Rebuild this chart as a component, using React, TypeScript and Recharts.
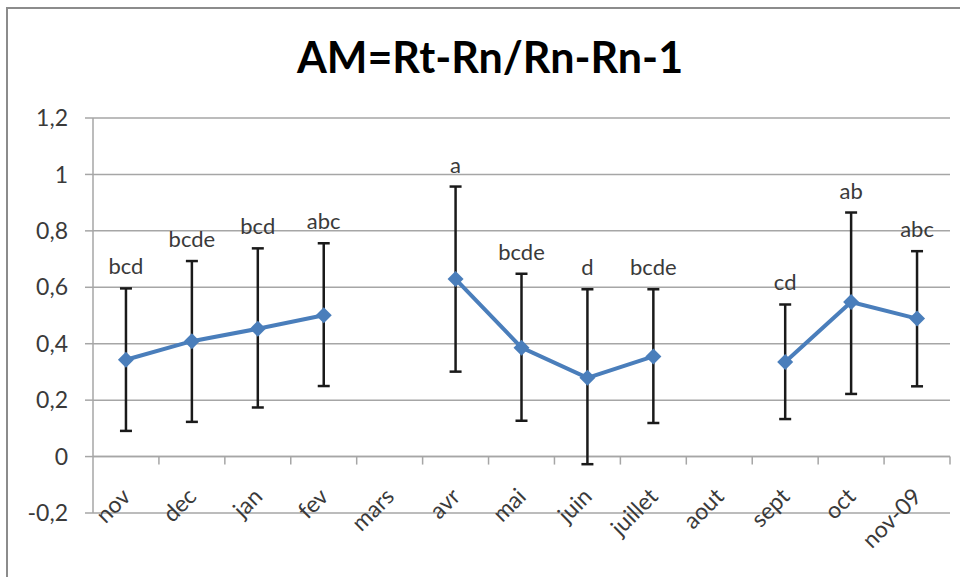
import {
  CartesianGrid,
  ComposedChart,
  ErrorBar,
  LabelList,
  Line,
  ReferenceLine,
  XAxis,
  YAxis
} from "recharts";

const months = ["nov", "dec", "jan", "fev", "mars", "avr", "mai", "juin", "juillet", "aout", "sept", "oct", "nov-09"];
const meanValues = [0.343, 0.409, 0.453, 0.501, null, 0.629, 0.386, 0.279, 0.355, null, 0.335, 0.548, 0.489];
const lowValues = [0.091, 0.123, 0.174, 0.25, null, 0.301, 0.127, -0.027, 0.119, null, 0.133, 0.222, 0.249];
const highValues = [0.596, 0.693, 0.738, 0.756, null, 0.957, 0.648, 0.593, 0.593, null, 0.539, 0.865, 0.728];
const groupLetters = ["bcd", "bcde", "bcd", "abc", "", "a", "bcde", "d", "bcde", "", "cd", "ab", "abc"];
const yTicks = [-0.2, 0, 0.2, 0.4, 0.6, 0.8, 1, 1.2];

const data = months.map((month, i) => ({
  month,
  mean: meanValues[i],
  high: highValues[i],
  letter: groupLetters[i],
  err:
    meanValues[i] == null
      ? null
      : [meanValues[i]! - lowValues[i]!, highValues[i]! - meanValues[i]!]
}));

const W = 960;
const H = 577;
const X_AXIS_H = 30;
const margin = { top: 118, right: 10, bottom: 34, left: 0 };
const yMin = -0.2;
const yMax = 1.2;
const plotH = H - margin.top - margin.bottom - X_AXIS_H;
const zeroOffset = (plotH * (0 - yMin)) / (yMax - yMin);
const band = (W - margin.right - 93) / months.length;

const BLUE = "#4a7ebb";
const GRID = "#a6a6a6";
const TEXT = "#3a3a3a";

function Diamond(props: any) {
  const { cx, cy, index } = props;
  if (cx == null || cy == null || props.value == null) return <g key={index} />;
  const r = 8;
  return (
    <polygon
      key={index}
      points={`${cx},${cy - r} ${cx + r},${cy} ${cx},${cy + r} ${cx - r},${cy}`}
      fill={BLUE}
    />
  );
}

function MonthTick(props: any) {
  const { x, y, payload } = props;
  const ax = x + 6;
  const ay = y - 15;
  const tickY = y - zeroOffset;
  return (
    <g>
      <line x1={x + band / 2} x2={x + band / 2} y1={tickY} y2={tickY + 8} stroke={GRID} strokeWidth={1.5} />
      <text
        x={ax}
        y={ay}
        textAnchor="end"
        transform={`rotate(-45, ${ax}, ${ay})`}
        fontSize={23}
        fill={TEXT}
      >
        {payload.value}
      </text>
    </g>
  );
}

export default function App() {
  return (
    <div
      style={{
        position: "fixed",
        left: 0,
        top: 0,
        width: W,
        height: H,
        overflow: "hidden",
        background: "#fff",
        fontFamily: "Lato, sans-serif"
      }}
    >
      <div
        style={{
          position: "absolute",
          left: 6,
          top: 7,
          width: 1000,
          height: 640,
          border: "2px solid #8c8c8c",
          boxSizing: "border-box"
        }}
      />
      <div
        style={{
          position: "absolute",
          left: 0,
          top: 35,
          width: 980,
          textAlign: "center",
          fontSize: 43,
          lineHeight: "43px",
          fontWeight: 700,
          color: "#000"
        }}
      >
        AM=Rt-Rn/Rn-Rn-1
      </div>
      <div style={{ position: "absolute", left: 0, top: 0 }}>
        <ComposedChart width={W} height={H} data={data} margin={margin}>
          <CartesianGrid vertical={false} stroke={GRID} strokeWidth={1.5} />
          <XAxis
            dataKey="month"
            scale="band"
            height={X_AXIS_H}
            axisLine={false}
            tickLine={false}
            tickSize={0}
            tickMargin={0}
            interval={0}
            tick={<MonthTick />}
          />
          <YAxis
            width={93}
            domain={[yMin, yMax]}
            ticks={yTicks}
            interval={0}
            allowDataOverflow
            axisLine={{ stroke: GRID, strokeWidth: 1.5 }}
            tickLine={{ stroke: GRID, strokeWidth: 1.5 }}
            tickSize={8}
            tickMargin={17}
            tick={{ fill: TEXT, fontSize: 23 }}
            tickFormatter={(v: number) => String(v).replace(".", ",")}
          />
          <ReferenceLine y={0} stroke={GRID} strokeWidth={1.5} />
          <Line
            dataKey="high"
            stroke="none"
            dot={false}
            activeDot={false}
            legendType="none"
            isAnimationActive={false}
          >
            <LabelList dataKey="letter" position="top" offset={14} fill={TEXT} fontSize={22} />
          </Line>
          <Line
            dataKey="mean"
            stroke={BLUE}
            strokeWidth={4}
            dot={<Diamond />}
            activeDot={false}
            connectNulls={false}
            isAnimationActive={false}
          >
            <ErrorBar dataKey="err" stroke="#1a1a1a" strokeWidth={2.5} width={6} isAnimationActive={false} />
          </Line>
        </ComposedChart>
      </div>
    </div>
  );
}
